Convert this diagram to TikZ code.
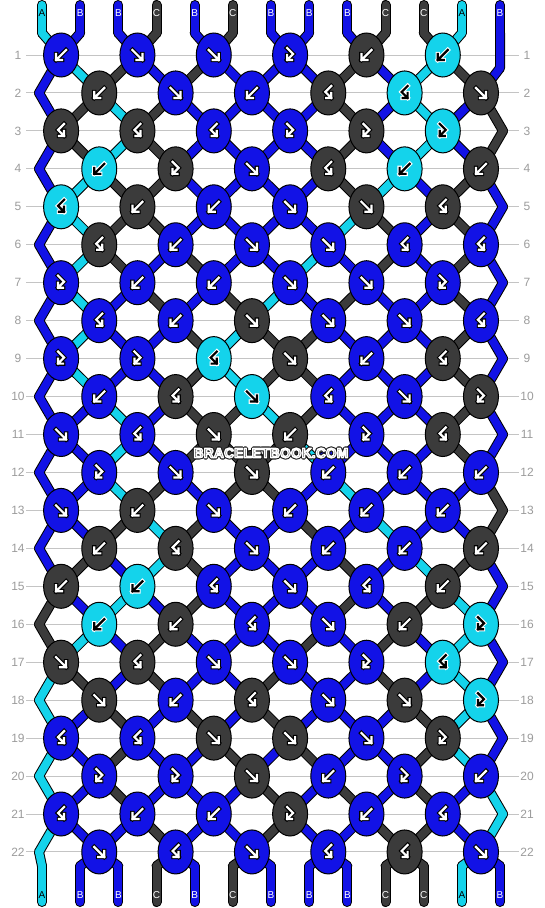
\documentclass[tikz,border=0pt]{standalone}
\usepackage{fontspec}
\setmainfont{Liberation Sans}
\usetikzlibrary{shapes.geometric}

\pgfdeclarelayer{grid}
\pgfdeclarelayer{rim}
\pgfdeclarelayer{core}
\pgfsetlayers{grid,rim,core,main}

\definecolor{strA}{HTML}{14D3EB}
\definecolor{strB}{HTML}{1212E6}
\definecolor{strC}{HTML}{3B3B3B}
\definecolor{rowline}{HTML}{C4C4C4}
\definecolor{rowtext}{HTML}{9C9C9C}

\def\fgA{black}\def\olA{white}
\def\fgB{white}\def\olB{black}
\def\fgC{white}\def\olC{black}

\def\xs{38.17}
\def\ys{37.95}

% arrow glyphs: f, b, fb (F), bf (B)
\def\glf{(-5,-5) -- (5,5) (5,-1) -- (5,5) -- (-1,5)}
\def\glb{(5,-5) -- (-5,5) (-5,-1) -- (-5,5) -- (1,5)}
\def\glF{(-3,-7) -- (3,-1) -- (-3,5) (-3,0) -- (-3,5) -- (2,5)}
\def\glB{(3,-7) -- (-3,-1) -- (3,5) (3,0) -- (3,5) -- (-2,5)}

\tikzset{
  strand/.style={line width=10pt, line cap=round, line join=round},
  knotnode/.style={ellipse, draw, line width=1pt, minimum width=35pt,
    minimum height=44pt, inner sep=0pt},
  rownum/.style={text=rowtext, font=\fontsize{12}{14}\selectfont},
  strlab/.style={font=\fontsize{10}{12}\selectfont, inner sep=0pt},
  logo/.style={font=\bfseries\fontsize{14}{16}\selectfont, inner sep=0pt},
}

% outlined text: stroke width, stroke colour (rgb)
\newcommand\outlined[3]{%
  \special{pdf:literal direct 2 Tr #1 w 1 j #2 RG}#3\special{pdf:literal direct 0 Tr 0 j}}

% strands are collected, then drawn below the knots
\gdef\rimlist{}\gdef\corelist{}
\newcommand\addstrand[3]{%
  \xdef\rimlist{\unexpanded\expandafter{\rimlist}%
    \noexpand\draw[strand, black] (#1.center) -- (#2.center);}%
  \xdef\corelist{\unexpanded\expandafter{\corelist}%
    \noexpand\draw[strand, line width=8pt, color=str#3] (#1.center) -- (#2.center);}}
\newcommand\flushstrands{%
  \begin{pgfonlayer}{rim}\rimlist\end{pgfonlayer}%
  \begin{pgfonlayer}{core}\corelist\end{pgfonlayer}%
  \gdef\rimlist{}\gdef\corelist{}}

\newcommand\knotglyph[3]{%
  \expandafter\let\expandafter\glpath\csname gl#2\endcsname
  \edef\glfg{\csname fg#3\endcsname}\edef\glol{\csname ol#3\endcsname}
  \begin{scope}[shift={(#1.center)}]
    \draw[line width=4.4pt, color=\glol, line cap=rect] \glpath;
    \draw[line width=2.2pt, color=\glfg, line cap=rect] \glpath;
  \end{scope}}

\newcommand\swapst{%
  \expandafter\xdef\csname st\lft\endcsname{\colR}%
  \expandafter\xdef\csname st\rgt\endcsname{\colL}}

\begin{document}
\begin{tikzpicture}[x=1pt, y=-1pt]
\useasboundingbox (0,0) rectangle (544,908);
\begin{pgfonlayer}{grid}
  \fill[white] (0,0) rectangle (544,908);
  \foreach \row in {1,...,22}
    \draw[rowline, line width=1pt] (26,{55+(\row-1)*\ys}) -- (519,{55+(\row-1)*\ys});
\end{pgfonlayer}

% threads at the top
\foreach \colP [count=\p] in {A,B,B,C,B,C,B,B,B,C,C,A,B}{
  \expandafter\xdef\csname st\p\endcsname{\colP}
  \expandafter\xdef\csname lp\p\endcsname{u\p}
  \coordinate (t\p) at ({42+(\p-1)*\xs},5);
  \coordinate (u\p) at ({42+(\p-1)*\xs},33);
  \addstrand{t\p}{u\p}{\colP}
  \edef\fgP{\csname fg\colP\endcsname}
  \node[strlab, text=\fgP] (top\p) at ({42+(\p-1)*\xs},13) {\colP};
}
\flushstrands

% rows of knots
\foreach \kts [count=\row] in {
  {b,f,f,F,b,b},{b,f,b,B,B,f},{B,B,B,F,F,F},{b,F,f,B,b,b},
  {B,b,b,f,f,B},{B,b,f,f,B,B},{F,b,b,f,f,F},{B,b,f,f,f,B},
  {F,F,B,f,b,B},{b,B,f,B,f,F},{f,B,f,b,F,B},{F,f,f,b,b,b},
  {f,b,f,b,b,b},{b,B,f,b,b,b},{b,b,B,f,B,b},{b,b,B,f,b,F},
  {f,B,f,f,F,B},{f,b,B,f,f,F},{B,B,f,f,f,F},{F,F,f,b,F,b},
  {B,b,b,F,b,B},{f,B,f,B,B,f}}{
  \pgfmathtruncatemacro\ev{1-mod(\row,2)}
  \pgfmathsetmacro\y{55+(\row-1)*\ys}
  \node[rownum] (nl\row) at (18,\y) {\row};
  \node[rownum] (nr\row) at (527,\y) {\row};
  % thread passing at the edge
  \pgfmathtruncatemacro\pp{\ev==1 ? 1 : 13}
  \pgfmathsetmacro\ex{\ev==1 ? 39 : (\row==1 ? 500 : 503)}
  \pgfmathsetmacro\ey{\row==1 ? 68 : \y}
  \coordinate (e\row) at (\ex,\ey);
  \edef\from{\csname lp\pp\endcsname}
  \edef\colP{\csname st\pp\endcsname}
  \addstrand{\from}{e\row}{\colP}
  \expandafter\xdef\csname lp\pp\endcsname{e\row}
  \foreach \kt [count=\kn] in \kts {
    \pgfmathtruncatemacro\lft{2*\kn-1+\ev}
    \pgfmathtruncatemacro\rgt{\lft+1}
    \edef\colL{\csname st\lft\endcsname}
    \edef\colR{\csname st\rgt\endcsname}
    \if\kt f\let\kc\colL\else\if\kt F\let\kc\colL\else\let\kc\colR\fi\fi
    \edef\kfill{str\kc}
    \node[knotnode, fill=\kfill] (k\row-\kn) at ({42+(2*\kn-2+\ev)*\xs+\xs/2},\y) {};
    \edef\from{\csname lp\lft\endcsname}
    \addstrand{\from}{k\row-\kn}{\colL}
    \edef\from{\csname lp\rgt\endcsname}
    \addstrand{\from}{k\row-\kn}{\colR}
    \knotglyph{k\row-\kn}{\kt}{\kc}
    \expandafter\xdef\csname lp\lft\endcsname{k\row-\kn}
    \expandafter\xdef\csname lp\rgt\endcsname{k\row-\kn}
    \if\kt f\swapst\fi
    \if\kt b\swapst\fi
  }
  \flushstrands
}

% threads at the bottom
\foreach \p in {1,...,13}{
  \edef\from{\csname lp\p\endcsname}
  \edef\colP{\csname st\p\endcsname}
  \coordinate (v\p) at ({42+(\p-1)*\xs},866);
  \coordinate (w\p) at ({42+(\p-1)*\xs},902);
  \addstrand{\from}{v\p}{\colP}
  \addstrand{v\p}{w\p}{\colP}
  \edef\fgP{\csname fg\colP\endcsname}
  \node[strlab, text=\fgP] (bot\p) at ({42+(\p-1)*\xs},895) {\colP};
}
\flushstrands

% watermark: dark rim, white ring, grey letters
\node[logo, text=black!62] (logo) at (271,453)
  {\outlined{3.4}{0.1 0.1 0.1}{\rlap{BRACELETBOOK.COM}}\outlined{1.3}{1 1 1}{BRACELETBOOK.COM}};
\end{tikzpicture}
\end{document}
